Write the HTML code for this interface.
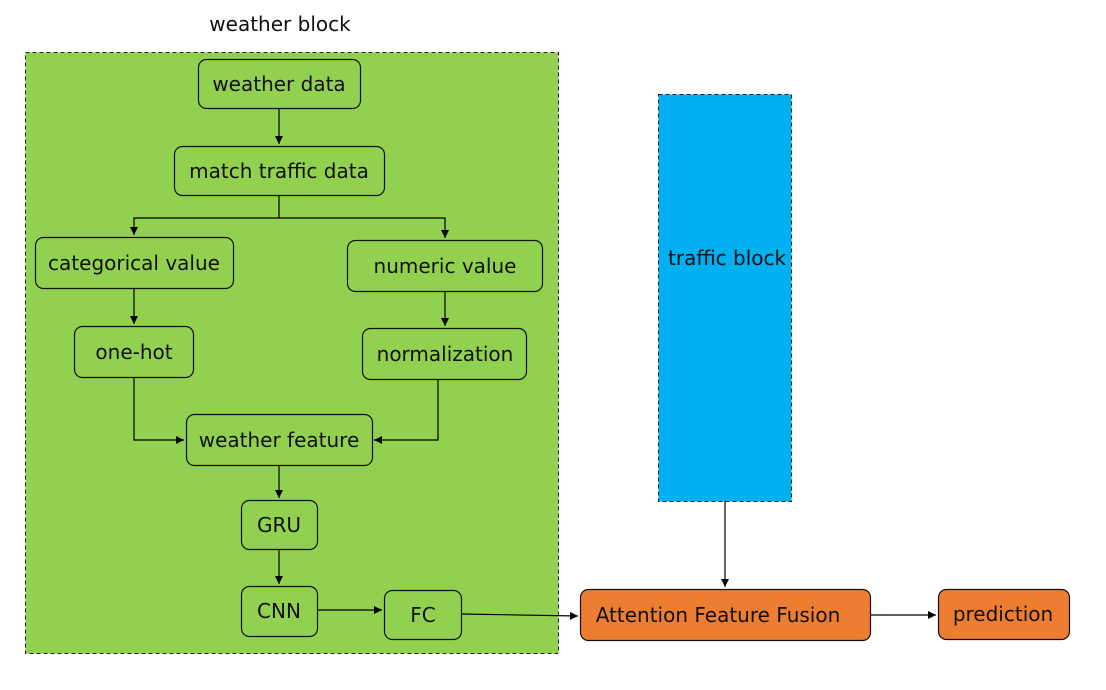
<!DOCTYPE html>
<html><head><meta charset="utf-8"><style>
html,body{margin:0;padding:0;background:#fff;}
svg text{font-family:"DejaVu Sans","Liberation Sans",sans-serif;font-size:20px;fill:#111;}
</style></head><body>
<svg width="1106" height="685" viewBox="0 0 1106 685" xmlns="http://www.w3.org/2000/svg">
<defs><marker id="a" markerWidth="10" markerHeight="10" refX="8" refY="4" orient="auto" markerUnits="userSpaceOnUse"><path d="M0,0 L8,4 L0,8 z" fill="#000"/></marker></defs>
<text x="280" y="31" text-anchor="middle">weather block</text>
<rect x="25.5" y="52.5" width="533" height="601" fill="#92d050" stroke="#222" stroke-dasharray="4,3"/>
<rect x="658.5" y="94.5" width="133" height="407" fill="#00b0f0" stroke="#222" stroke-dasharray="4,3"/>
<text x="668" y="265">traffic block</text>
<g fill="none" stroke="#000" stroke-width="1.2">
<path d="M279,108 V144" marker-end="url(#a)"/>
<path d="M279,195 V218 H134 V235" marker-end="url(#a)"/>
<path d="M279,218 H445 V238" marker-end="url(#a)"/>
<path d="M134,288 V324" marker-end="url(#a)"/>
<path d="M445,291 V326" marker-end="url(#a)"/>
<path d="M134,377 V440 H184" marker-end="url(#a)"/>
<path d="M438,379 V440 H374" marker-end="url(#a)"/>
<path d="M279,465 V498" marker-end="url(#a)"/>
<path d="M279,549 V584" marker-end="url(#a)"/>
<path d="M317,610 H382" marker-end="url(#a)"/>
<path d="M461,614 L578,616" marker-end="url(#a)"/>
<path d="M725,501 V587" marker-end="url(#a)"/>
<path d="M870,615 H936" marker-end="url(#a)"/>
</g>
<g stroke="#111" stroke-width="1.2">
<rect x="198.5" y="59.5" width="162" height="49" rx="8" fill="#92d050"/>
<rect x="174.5" y="146.5" width="210" height="49" rx="8" fill="#92d050"/>
<rect x="35.5" y="237.5" width="198" height="51" rx="8" fill="#92d050"/>
<rect x="347.5" y="240.5" width="195" height="51" rx="8" fill="#92d050"/>
<rect x="74.5" y="326.5" width="119" height="51" rx="8" fill="#92d050"/>
<rect x="362.5" y="328.5" width="164" height="51" rx="8" fill="#92d050"/>
<rect x="186.5" y="414.5" width="186" height="51" rx="8" fill="#92d050"/>
<rect x="241.5" y="500.5" width="76" height="49" rx="8" fill="#92d050"/>
<rect x="241.5" y="586.5" width="76" height="50" rx="8" fill="#92d050"/>
<rect x="384.5" y="590.5" width="77" height="49" rx="8" fill="#92d050"/>
<rect x="580.5" y="589.5" width="290" height="51" rx="8" fill="#ed7d31"/>
<rect x="938.5" y="589.5" width="131" height="50" rx="8" fill="#ed7d31"/>
</g>
<g text-anchor="middle">
<text x="279" y="91">weather data</text>
<text x="279" y="178">match traffic data</text>
<text x="134" y="270">categorical value</text>
<text x="445" y="273">numeric value</text>
<text x="134" y="359">one-hot</text>
<text x="445" y="361">normalization</text>
<text x="279" y="447">weather feature</text>
<text x="279" y="532">GRU</text>
<text x="279" y="618">CNN</text>
<text x="423" y="622">FC</text>
<text x="718" y="622">Attention Feature Fusion</text>
<text x="1003" y="621">prediction</text>
</g>
</svg>
</body></html>
